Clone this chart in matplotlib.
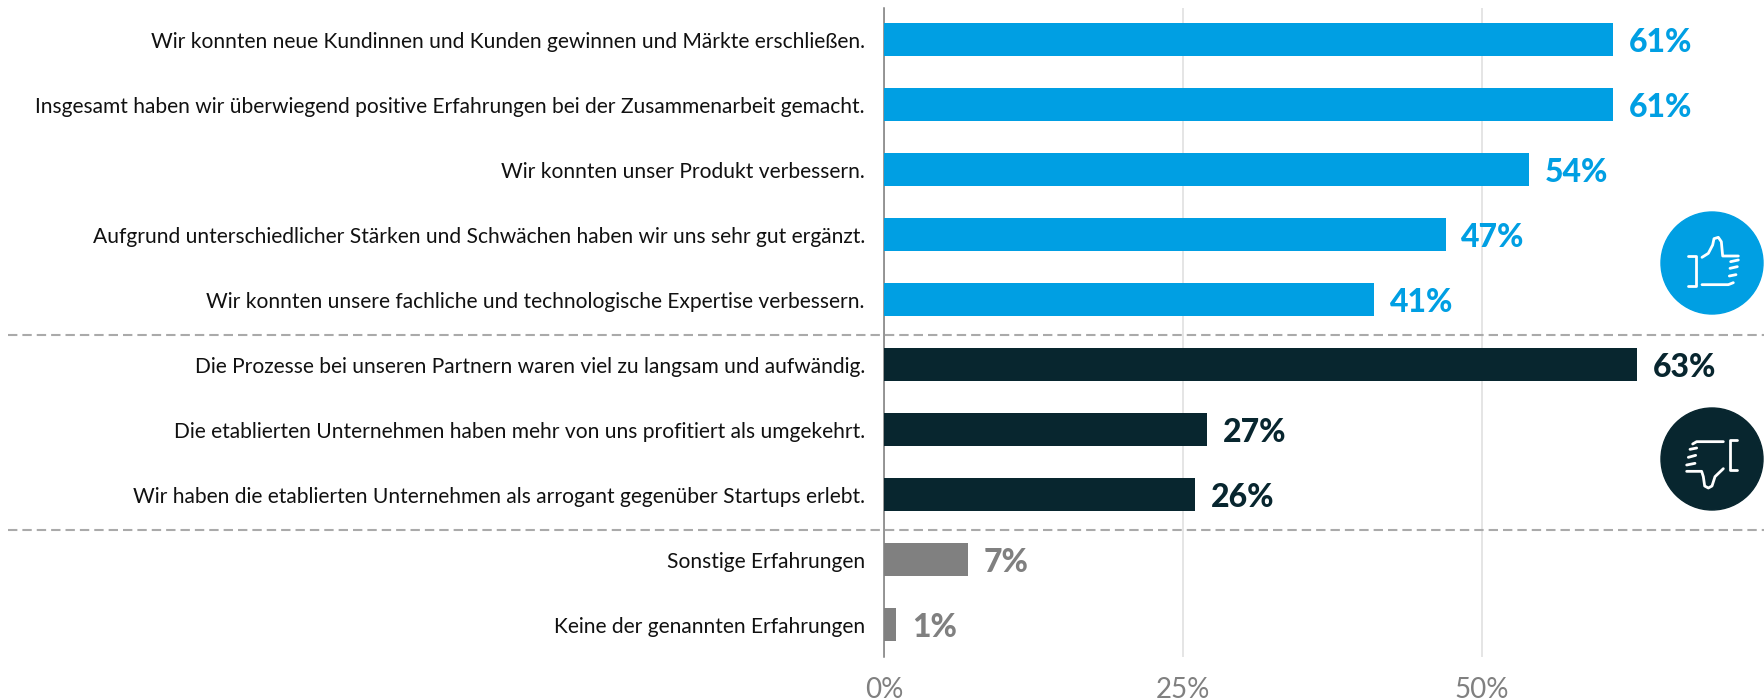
import matplotlib
matplotlib.use('Agg')
import matplotlib.pyplot as plt
from matplotlib.patches import Circle

W, H = 1764, 700

labels = [
    'Wir konnten neue Kundinnen und Kunden gewinnen und Märkte erschließen.',
    'Insgesamt haben wir überwiegend positive Erfahrungen bei der Zusammenarbeit gemacht.',
    'Wir konnten unser Produkt verbessern.',
    'Aufgrund unterschiedlicher Stärken und Schwächen haben wir uns sehr gut ergänzt.',
    'Wir konnten unsere fachliche und technologische Expertise verbessern.',
    'Die Prozesse bei unseren Partnern waren viel zu langsam und aufwändig.',
    'Die etablierten Unternehmen haben mehr von uns profitiert als umgekehrt.',
    'Wir haben die etablierten Unternehmen als arrogant gegenüber Startups erlebt.',
    'Sonstige Erfahrungen',
    'Keine der genannten Erfahrungen',
]
values = [61, 61, 54, 47, 41, 63, 27, 26, 7, 1]
groups = ['pos', 'pos', 'pos', 'pos', 'pos', 'neg', 'neg', 'neg', 'other', 'other']
colors = {'pos': '#009FE3', 'neg': '#08262F', 'other': '#808080'}
ticks = [0, 25, 50]
tick_labels = ['0%', '25%', '50%']
separators = [4.54, 7.54]

plt.rcParams['font.family'] = ['Lato', 'DejaVu Sans']

fig = plt.figure(figsize=(W / 100, H / 100), dpi=100)

# axes placed so that 0% sits at x=884 px and rows are 65 px apart
ax_left, ax_top, ax_bottom = 884, 8, 657
ax = fig.add_axes([ax_left / W, 1 - ax_bottom / H, (W - ax_left) / W, (ax_bottom - ax_top) / H])
ax.set_xlim(0, (W - ax_left) / 11.95)
ax.set_ylim(9.5, -0.485)
ax.patch.set_alpha(0)
ax.set_axisbelow(True)

for s in ['top', 'right', 'bottom']:
    ax.spines[s].set_visible(False)
ax.spines['left'].set_color('#7a7a7a')
ax.spines['left'].set_linewidth(1.1)

ax.xaxis.grid(True, color='#e0e0e0', linewidth=1.2)
ax.set_xticks(ticks)
ax.set_xticklabels(tick_labels, fontsize=20, color='#808080')
ax.tick_params(axis='x', length=0, pad=14.2)
ax.tick_params(axis='y', length=0, pad=13.8)

pos = list(range(len(labels)))
ax.barh(pos, values, height=0.51, color=[colors[g] for g in groups], zorder=3)
ax.set_yticks(pos)
ax.set_yticklabels(labels, fontsize=15.1, color='#111111')

for i, v in enumerate(values):
    ax.text(v + 1.32, i + 0.04, f'{v}%', va='center', ha='left', fontsize=23,
            fontweight='black', color=colors[groups[i]], zorder=4)

# overlay in pixel coordinates for separators and icons
ov = fig.add_axes([0, 0, 1, 1])
ov.set_xlim(0, W)
ov.set_ylim(H, 0)
ov.axis('off')
ov.patch.set_alpha(0)

for y in separators:
    py = ax_top + (y + 0.485) * 65
    ov.plot([8, W], [py, py], color='#aaaaaa', lw=1.5, dashes=(4.5, 2.4))


def icon_line(x, y, ox, oy, lw=2.0):
    # coordinates taken from a 3x crop, ox/oy is the crop origin
    ov.plot([ox + a / 3 for a in x], [oy + b / 3 for b in y], color='white', lw=lw,
            solid_capstyle='round', solid_joinstyle='round', zorder=6)


ov.add_patch(Circle((1712, 263), 51, color=colors['pos'], zorder=5))
ox, oy = 1400, 180
icon_line([865, 888, 888, 865], [228, 228, 318, 318], ox, oy)
icon_line([906, 925, 938, 942, 955, 964, 968, 1015], [232, 220, 195, 176, 172, 185, 228, 228], ox, oy)
icon_line([992, 1015], [245, 240], ox, oy)
icon_line([990, 1012], [265, 260], ox, oy)
icon_line([988, 1008], [288, 284], ox, oy)
icon_line([906, 985, 1000], [314, 314, 308], ox, oy)

ov.add_patch(Circle((1712, 459), 51, color=colors['neg'], zorder=5))
ox, oy = 1400, 380
icon_line([1012, 990, 990, 1012], [180, 180, 270, 270], ox, oy)
icon_line([970, 890, 878], [185, 185, 192], ox, oy)
icon_line([870, 890], [208, 204], ox, oy)
icon_line([865, 887], [232, 226], ox, oy)
icon_line([860, 885], [255, 250], ox, oy)
icon_line([860, 905, 910, 914, 925, 936, 945, 970], [274, 274, 290, 318, 324, 318, 290, 266], ox, oy)

fig.savefig('out.png', dpi=100)
